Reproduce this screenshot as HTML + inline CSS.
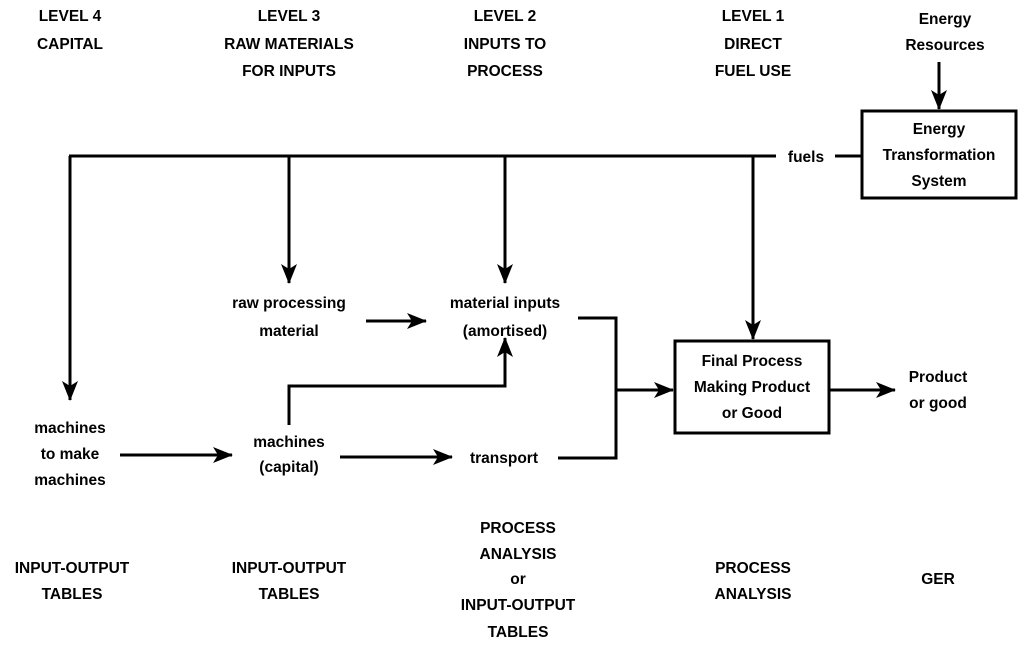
<!DOCTYPE html>
<html><head><meta charset="utf-8"><style>body{margin:0;background:#fff}svg{display:block}text{font-family:"Liberation Sans",sans-serif;font-weight:bold;font-size:15.5px;fill:#000;text-anchor:middle}</style></head><body>
<svg width="1024" height="647" viewBox="0 0 1024 647">
<defs><marker id="a" markerWidth="10" markerHeight="10" refX="9" refY="5" orient="auto" markerUnits="userSpaceOnUse" viewBox="0 0 10 10"><path d="M0,0 L10,5 L0,10 L2,5 z" fill="#000"/></marker>
<marker id="b" markerWidth="20" markerHeight="16" refX="19" refY="8" orient="auto" markerUnits="userSpaceOnUse"><path d="M0,0 L20,8 L0,16 L5,8 z" fill="#000"/></marker></defs>
<g stroke="#000" stroke-width="3" fill="none">
<rect x="862" y="111" width="154" height="87"/>
<rect x="675" y="341" width="154" height="92"/>
<line x1="69" y1="156" x2="776" y2="156"/>
<line x1="835" y1="156" x2="862" y2="156"/>
<line x1="70" y1="156" x2="70" y2="400" marker-end="url(#b)"/>
<line x1="289" y1="156" x2="289" y2="283" marker-end="url(#b)"/>
<line x1="505" y1="156" x2="505" y2="283" marker-end="url(#b)"/>
<line x1="753" y1="156" x2="753" y2="339" marker-end="url(#b)"/>
<line x1="939" y1="62" x2="939" y2="109" marker-end="url(#b)"/>
<line x1="366" y1="321" x2="426" y2="321" marker-end="url(#b)"/>
<polyline points="578,318 616,318 616,458 558,458"/>
<line x1="616" y1="390" x2="673" y2="390" marker-end="url(#b)"/>
<polyline points="289,425 289,386 505,386 505,338" marker-end="url(#b)"/>
<line x1="120" y1="455" x2="232" y2="455" marker-end="url(#b)"/>
<line x1="340" y1="457" x2="452" y2="457" marker-end="url(#b)"/>
<line x1="829" y1="390" x2="895" y2="390" marker-end="url(#b)"/>
</g>
<text x="70" y="21">LEVEL 4</text><text x="70" y="49">CAPITAL</text>
<text x="289" y="21">LEVEL 3</text><text x="289" y="49">RAW MATERIALS</text><text x="289" y="76">FOR INPUTS</text>
<text x="505" y="21">LEVEL 2</text><text x="505" y="49">INPUTS TO</text><text x="505" y="76">PROCESS</text>
<text x="753" y="21">LEVEL 1</text><text x="753" y="49">DIRECT</text><text x="753" y="76">FUEL USE</text>
<text x="945" y="24">Energy</text><text x="945" y="50">Resources</text>
<text x="939" y="134">Energy</text><text x="939" y="160">Transformation</text><text x="939" y="186">System</text>
<text x="806" y="162">fuels</text>
<text x="289" y="308">raw processing</text><text x="289" y="336">material</text>
<text x="505" y="308">material inputs</text><text x="505" y="336">(amortised)</text>
<text x="752" y="366">Final Process</text><text x="752" y="392">Making Product</text><text x="752" y="418">or Good</text>
<text x="938" y="382">Product</text><text x="938" y="408">or good</text>
<text x="70" y="433">machines</text><text x="70" y="459">to make</text><text x="70" y="485">machines</text>
<text x="289" y="447">machines</text><text x="289" y="472">(capital)</text>
<text x="504" y="463">transport</text>
<text x="72" y="573">INPUT-OUTPUT</text><text x="72" y="599">TABLES</text>
<text x="289" y="573">INPUT-OUTPUT</text><text x="289" y="599">TABLES</text>
<text x="518" y="533">PROCESS</text><text x="518" y="559">ANALYSIS</text><text x="518" y="584">or</text><text x="518" y="610">INPUT-OUTPUT</text><text x="518" y="637">TABLES</text>
<text x="753" y="573">PROCESS</text><text x="753" y="599">ANALYSIS</text>
<text x="938" y="584">GER</text>
</svg>
</body></html>
